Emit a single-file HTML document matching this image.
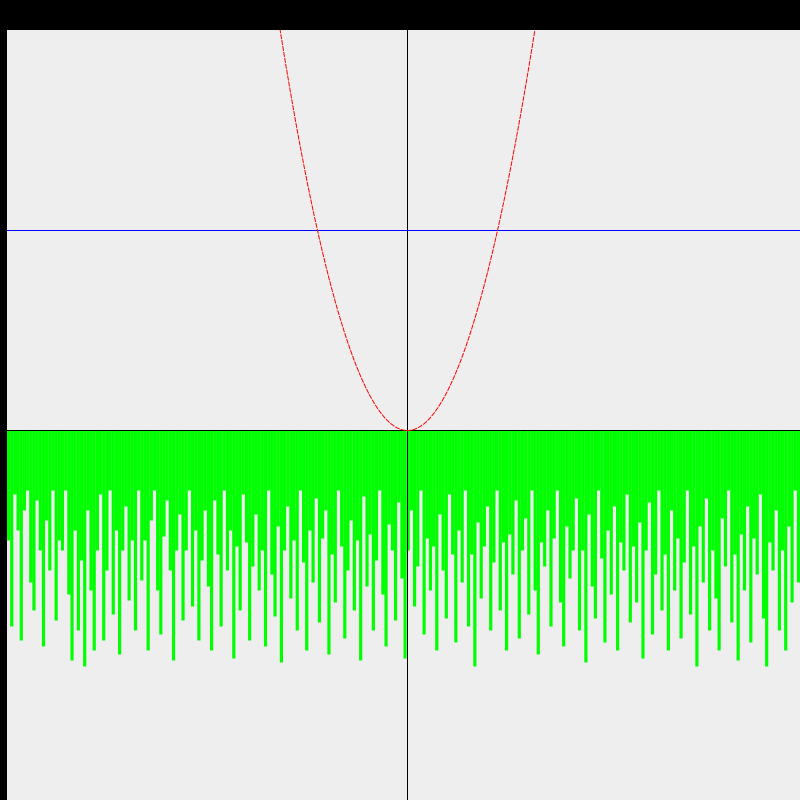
<!DOCTYPE html>
<html><head><meta charset="utf-8"><style>
html,body{margin:0;padding:0;background:#000;}
svg{display:block}
</style></head><body>
<svg id="chart" width="800" height="800" xmlns="http://www.w3.org/2000/svg">
<defs><clipPath id="plotClip"><rect x="7" y="30" width="793" height="770"/></clipPath></defs>
<rect x="0" y="0" width="800" height="30" fill="#000"/>
<rect x="0" y="0" width="7" height="800" fill="#000"/>
<rect x="7" y="30" width="793" height="770" fill="#eeeeee"/>
<g id="noise"></g>
<line x1="7" y1="430.5" x2="800" y2="430.5" stroke="#000" stroke-width="1"/>
<line x1="407.5" y1="30" x2="407.5" y2="800" stroke="#000" stroke-width="1"/>
<line id="hline" x1="7" x2="800" stroke="#0000ff" stroke-width="1"/>
<path id="parabola" clip-path="url(#plotClip)" fill="none" stroke="#ff0000" stroke-width="1" stroke-dasharray="5,1"/>
</svg>
<script>
const noiseValues = [-0.55,-0.98,-0.32,-0.5,-1.05,-0.4,-0.3,-0.76,-0.9,-0.35,-0.6,-1.08,-0.45,-0.7,-0.3,-0.95,-0.55,-0.6,-0.3,-0.82,
-1.15,-0.5,-1.0,-0.65,-1.18,-0.4,-0.8,-1.1,-0.6,-0.32,-1.05,-0.7,-0.3,-0.92,-0.5,-1.12,-0.6,-0.38,-0.85,-0.55,
-1.0,-0.3,-0.75,-0.55,-1.1,-0.45,-0.3,-0.8,-1.02,-0.53,-0.35,-0.7,-1.15,-0.6,-0.42,-0.95,-0.6,-0.3,-0.88,-0.5,
-1.05,-0.65,-0.4,-0.78,-1.1,-0.35,-0.62,-0.98,-0.3,-0.7,-0.5,-1.14,-0.58,-0.9,-0.32,-0.56,-1.05,-0.68,-0.42,-0.8,
-0.6,-1.08,-0.3,-0.72,-0.93,-0.48,-1.16,-0.6,-0.38,-0.84,-0.55,-1.0,-0.3,-0.66,-1.1,-0.5,-0.76,-0.34,-0.96,-0.54,
-0.4,-1.12,-0.62,-0.86,-0.3,-0.58,-1.04,-0.7,-0.45,-0.9,-0.55,-1.15,-0.33,-0.78,-0.52,-1.0,-0.65,-0.3,-0.82,-1.08,
-0.47,-0.6,-0.95,-0.36,-0.74,-1.14,-0.6,-0.4,-0.88,-0.68,-0.3,-1.02,-0.54,-0.8,-0.58,-1.1,-0.42,-0.7,-0.94,-0.32,
-0.62,-1.06,-0.5,-0.76,-0.3,-0.98,-0.62,-1.18,-0.46,-0.84,-0.58,-0.38,-1.0,-0.66,-0.3,-0.9,-0.56,-1.1,-0.52,-0.72,
-0.35,-1.04,-0.6,-0.44,-0.92,-0.3,-0.8,-1.12,-0.56,-0.68,-0.4,-0.98,-0.54,-0.3,-0.86,-1.08,-0.48,-0.74,-0.6,-0.34,
-1.0,-0.6,-1.16,-0.42,-0.78,-0.94,-0.3,-0.64,-1.06,-0.5,-0.82,-0.38,-1.1,-0.56,-0.7,-0.32,-0.96,-0.58,-0.86,-0.46,
-1.14,-0.6,-0.36,-1.02,-0.72,-0.3,-0.9,-0.62,-1.1,-0.4,-0.8,-0.54,-1.04,-0.66,-0.3,-0.92,-0.58,-1.18,-0.48,-0.76,
-0.34,-1.0,-0.6,-0.84,-1.1,-0.44,-0.68,-0.3,-0.96,-0.62,-1.15,-0.52,-0.8,-0.38,-1.06,-0.54,-0.72,-0.32,-0.94,-1.18,
-0.56,-0.7,-0.4,-1.0,-0.6,-1.1,-0.48,-0.86,-0.3,-0.76];
const yLineValue = 1;
const parabolaXs = [-4.44,-4,-3.5,-3,-2.5,-2,-1.5,-1,-0.5,0,0.5,1,1.5,2,2.5,3,3.5,4,4.4];

const originX = 407.5, originY = 430.5, yScale = 200, xScale = 90;
const sx = x => originX + x * xScale;
const sy = y => originY - y * yScale;

const svgNS = "http://www.w3.org/2000/svg";
const g = document.getElementById('noise');
const left = 7, right = 800;
const bw = (right - left) / noiseValues.length;
noiseValues.forEach((v, i) => {
  const r = document.createElementNS(svgNS, 'rect');
  
  
  r.setAttribute('x', left + i * bw);
  r.setAttribute('y', sy(0));
  r.setAttribute('width', bw);
  r.setAttribute('height', sy(v) - sy(0));
  r.setAttribute('fill', '#00ff00');
  g.appendChild(r);
});

const hl = document.getElementById('hline');
hl.setAttribute('y1', sy(yLineValue));
hl.setAttribute('y2', sy(yLineValue));

let d = '';
const x0 = parabolaXs[0], x1 = parabolaXs[parabolaXs.length - 1];
for (let k = 0; k <= 400; k++) {
  const x = x0 + (x1 - x0) * k / 400;
  d += (k ? 'L' : 'M') + sx(x).toFixed(2) + ',' + sy(x * x).toFixed(2);
}
document.getElementById('parabola').setAttribute('d', d);
</script>
</body></html>
